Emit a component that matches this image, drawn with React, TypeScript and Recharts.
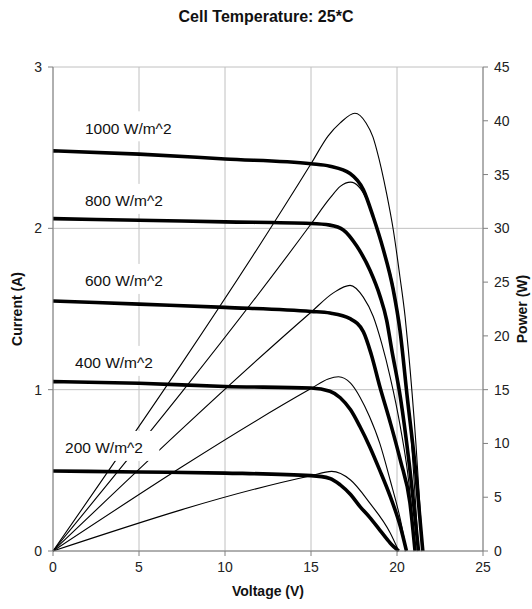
import { CartesianGrid, Line, LineChart, ReferenceDot, XAxis, YAxis } from 'recharts';

const FONT = '"Liberation Sans", Arial, Helvetica, sans-serif';

// tick values
const voltageTicks = [0, 5, 10, 15, 20, 25];
const currentTicks = [0, 1, 2, 3];
const powerTicks = [0, 5, 10, 15, 20, 25, 30, 35, 40, 45];

// I-V curves, [voltage V, current A]
const iv1000 = [[0, 2.48], [5, 2.46], [10, 2.43], [15, 2.4], [16.1, 2.385], [17.27, 2.34], [18.04, 2.24], [18.62, 2.07], [19.2, 1.87], [19.78, 1.62], [20.17, 1.37], [20.6, 0.95], [21.1, 0.48], [21.5, 0]];
const iv800 = [[0, 2.06], [5, 2.05], [10, 2.04], [15, 2.03], [16.1, 2.02], [16.88, 1.99], [17.66, 1.89], [18.43, 1.74], [19.01, 1.58], [19.4, 1.43], [19.69, 1.25], [20.2, 0.95], [20.7, 0.55], [21.25, 0]];
const iv600 = [[0, 1.55], [5, 1.53], [10, 1.51], [15, 1.485], [16.1, 1.475], [17.27, 1.44], [18.04, 1.36], [18.5, 1.22], [19.0, 1.02], [19.6, 0.8], [20.2, 0.56], [20.75, 0.3], [21.05, 0]];
const iv400 = [[0, 1.05], [5, 1.04], [10, 1.02], [15, 1.01], [16.1, 0.99], [16.7, 0.95], [17.3, 0.875], [17.85, 0.77], [18.4, 0.65], [19.0, 0.5], [19.6, 0.34], [20.2, 0.15], [20.55, 0]];
const iv200 = [[0, 0.496], [5, 0.49], [10, 0.483], [15, 0.467], [16.1, 0.45], [16.7, 0.41], [17.3, 0.35], [17.85, 0.275], [18.4, 0.21], [19.0, 0.13], [19.6, 0.05], [20.1, 0]];

// P-V curves, [voltage V, power W]
const pv1000 = [[0, 0], [15, 36.0], [16.0, 38.6], [16.7, 39.8], [17.55, 40.7], [18.2, 39.8], [18.6, 38.5], [18.82, 37.3], [19.4, 33.2], [19.79, 29.8], [20.17, 25.5], [20.47, 21.8], [20.66, 18.7], [21.1, 10], [21.5, 0]];
const pv800 = [[0, 0], [15, 30.4], [16.1, 32.8], [16.7, 33.9], [17.3, 34.3], [18.2, 32.8], [18.8, 30.1], [19.2, 28], [19.8, 24.5], [20.3, 19], [20.8, 11], [21.25, 0]];
const pv600 = [[0, 0], [15, 22.2], [16.3, 24.0], [17.27, 24.7], [18.04, 23.6], [18.62, 21.8], [19.11, 19.3], [19.6, 16.2], [20.2, 11.5], [20.7, 6.2], [21.05, 0]];
const pv400 = [[0, 0], [15, 15.1], [16.0, 16.0], [16.6, 16.2], [17.3, 15.6], [17.85, 14.3], [18.4, 12.5], [19.0, 10], [19.6, 6.6], [20.2, 2.9], [20.55, 0]];
const pv200 = [[0, 0], [15, 7.0], [16.2, 7.4], [17.3, 6.6], [18.4, 4.5], [19.6, 1.7], [20.1, 0]];

// irradiance labels: text, anchor voltage, anchor current
const irrLabels: [string, number, number][] = [
  ['1000 W/m^2', 1.86, 2.62],
  ['800 W/m^2', 1.86, 2.17],
  ['600 W/m^2', 1.86, 1.674],
  ['400 W/m^2', 1.28, 1.166],
  ['200 W/m^2', 0.7, 0.639],
];

const toIV = (rows: number[][]) => rows.map(([v, i]) => ({ v, i }));
const toPV = (rows: number[][]) => rows.map(([v, p]) => ({ v, p }));

const ivSeries = [iv1000, iv800, iv600, iv400, iv200];
const pvSeries = [pv1000, pv800, pv600, pv400, pv200];

const tickStyle = { fontSize: 14, fill: '#222', fontFamily: FONT };
const axisStroke = '#808080';
const titleStyle = { fontSize: 14, fontWeight: 'bold', fill: '#111', fontFamily: FONT };

function IrrLabel({ cx, cy, text }: { cx: number; cy: number; text: string }) {
  const w = text.length * 8.7;
  return (
    <g>
      <rect x={cx - 6} y={cy - 17} width={w + 22} height={30} fill="#fff" />
      <text x={cx} y={cy} dy="0.35em" fontSize={15.5} fontFamily={FONT} fill="#111">
        {text}
      </text>
    </g>
  );
}

export default function App() {
  return (
    <div style={{ position: 'absolute', left: 0, top: 0, width: 532, height: 609, background: '#fff', fontFamily: FONT }}>
      <div style={{ position: 'absolute', left: 0, top: 8, width: 532, textAlign: 'center', fontSize: 16, fontWeight: 'bold', color: '#111' }}>
        Cell Temperature: 25*C
      </div>
      <LineChart width={532} height={609} margin={{ top: 67, right: 0, bottom: 0, left: 0 }}>
        <CartesianGrid yAxisId="i" stroke="#c0c0c0" strokeWidth={1} />
        <XAxis
          dataKey="v"
          type="number"
          domain={[0, 25]}
          ticks={voltageTicks}
          height={58}
          stroke={axisStroke}
          tickSize={5}
          tickMargin={6}
          tick={tickStyle}
          label={{ value: 'Voltage (V)', position: 'insideBottom', offset: 13, style: titleStyle }}
        />
        <YAxis
          yAxisId="i"
          type="number"
          domain={[0, 3]}
          ticks={currentTicks}
          width={53}
          stroke={axisStroke}
          tickSize={5}
          tickMargin={6}
          tick={tickStyle}
          label={{ value: 'Current (A)', angle: -90, position: 'insideLeft', offset: 17, style: { ...titleStyle, textAnchor: 'middle' } }}
        />
        <YAxis
          yAxisId="p"
          orientation="right"
          type="number"
          domain={[0, 45]}
          ticks={powerTicks}
          width={49}
          stroke={axisStroke}
          tickSize={5}
          tickMargin={6}
          tick={tickStyle}
          label={{ value: 'Power (W)', angle: -90, position: 'insideRight', offset: 10, style: { ...titleStyle, textAnchor: 'middle' } }}
        />
        {pvSeries.map((rows, k) => (
          <Line
            key={'p' + k}
            data={toPV(rows)}
            dataKey="p"
            yAxisId="p"
            type="monotone"
            stroke="#000"
            strokeWidth={1.1}
            dot={false}
            activeDot={false}
            isAnimationActive={false}
          />
        ))}
        {ivSeries.map((rows, k) => (
          <Line
            key={'i' + k}
            data={toIV(rows)}
            dataKey="i"
            yAxisId="i"
            type="monotone"
            stroke="#000"
            strokeWidth={3.6}
            dot={false}
            activeDot={false}
            isAnimationActive={false}
          />
        ))}
        {irrLabels.map(([text, v, i]) => (
          <ReferenceDot
            key={text}
            x={v}
            y={i}
            yAxisId="i"
            r={0}
            zIndex={2000}
            shape={(p: any) => <IrrLabel cx={p.cx} cy={p.cy} text={text} />}
          />
        ))}
      </LineChart>
    </div>
  );
}
